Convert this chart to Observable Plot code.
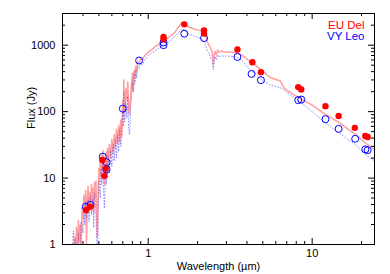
<!DOCTYPE html>
<html>
<head>
<meta charset="utf-8">
<script src="https://cdn.jsdelivr.net/npm/d3@7"></script>
<script src="https://cdn.jsdelivr.net/npm/@observablehq/plot@0.6"></script>
<style>
  html, body { margin: 0; padding: 0; background: #fff; }
  #chart { width: 390px; height: 274px; }
</style>
</head>
<body>
<div id="chart"></div>
<script>
// ---- Data ----
// EU Del model spectrum (red line)
const euDelModelWave = [0.35,0.355,0.36,0.365,0.37,0.375,0.38,0.385,0.39,0.395,0.40,0.405,0.41,0.415,0.42,0.425,0.43,0.435,0.44,0.445,0.45,0.455,0.46,0.465,0.47,0.475,0.48,0.485,0.49,0.495,0.50,0.505,0.51,0.515,0.52,0.525,0.53,0.535,0.54,0.545,0.55,0.555,0.56,0.565,0.57,0.58,0.59,0.60,0.61,0.62,0.63,0.64,0.65,0.66,0.67,0.68,0.69,0.70,0.705,0.71,0.715,0.72,0.73,0.74,0.75,0.76,0.77,0.78,0.79,0.80,0.81,0.82,0.83,0.84,0.85,0.86,0.88,0.90,0.92,0.95,1.0,1.05,1.1,1.15,1.2,1.25,1.3,1.35,1.4,1.45,1.5,1.55,1.6,1.65,1.7,1.75,1.8,1.9,2.0,2.1,2.2,2.25,2.3,2.35,2.4,2.45,2.5,2.52,2.55,2.6,2.65,2.7,2.8,2.9,3.0,3.2,3.4,3.6,3.8,4.0,4.2,4.5,4.8,5.0,5.5,6.0,6.4,6.7,7.0,8.0,8.7,10,12,14.5,18.3,21,24];
const euDelModelFlux = [0.5,1.3,0.7,1.8,0.9,2.3,1.1,2.0,0.8,3.5,2.5,5.5,3.0,6.5,1.0,5.0,7.5,3.5,6.0,4.0,8.0,4.5,7.0,3.0,8.5,5.0,9.0,2.5,1.3,6.0,14,9,18,11,22,14,26,12,8,20,15,25,13,28,18,32,20,38,24,45,28,55,33,62,35,75,42,150,90,300,140,100,220,150,280,110,90,170,250,380,200,420,330,480,400,560,540,620,610,690,790,850,950,1020,1100,1200,1250,1350,1450,1550,1750,1950,2200,2150,2000,1900,1850,1750,1700,1650,1550,1300,1100,1000,900,800,520,700,800,720,850,780,820,790,790,780,770,740,690,620,560,500,440,410,330,305,290,232,210,170,152,125,92,69,46,34,27];

// VY Leo model spectrum (blue dotted line)
const vyLeoModelWave = [0.34,0.35,0.355,0.36,0.37,0.375,0.38,0.39,0.40,0.405,0.41,0.415,0.42,0.43,0.435,0.44,0.445,0.45,0.46,0.465,0.47,0.48,0.485,0.49,0.495,0.50,0.51,0.515,0.52,0.525,0.53,0.535,0.54,0.55,0.555,0.56,0.565,0.57,0.58,0.59,0.60,0.61,0.62,0.63,0.64,0.65,0.66,0.67,0.68,0.69,0.70,0.705,0.71,0.715,0.72,0.73,0.74,0.75,0.76,0.77,0.78,0.79,0.80,0.81,0.82,0.83,0.84,0.85,0.86,0.88,0.90,0.92,0.95,1.0,1.05,1.1,1.15,1.2,1.25,1.3,1.35,1.4,1.45,1.5,1.55,1.6,1.65,1.7,1.75,1.8,1.9,2.0,2.1,2.2,2.25,2.3,2.35,2.4,2.45,2.5,2.52,2.55,2.6,2.65,2.7,2.8,2.9,3.0,3.2,3.4,3.6,3.8,4.0,4.2,4.5,4.8,5.0,5.5,6.0,6.5,7.0,8.0,9.0,10,12,14.5,18.3,21,24];
const vyLeoModelFlux = [0.5,1.6,0.6,1.2,0.7,1.5,0.5,2.2,1.5,3.5,2.0,4.5,2.5,5.0,2.2,4.2,5.5,2.8,5.0,1.8,6.0,3.0,1.2,0.5,3.0,9.0,5.0,14,8,18,10,6,3.5,14,8,18,10,22,12,26,15,32,18,38,20,45,25,55,30,65,100,60,200,90,70,140,80,170,55,45,100,160,280,200,380,260,420,320,480,440,540,500,600,700,760,820,880,950,1020,1080,1150,1250,1350,1450,1600,1750,1700,1600,1500,1450,1380,1320,1250,1150,950,800,750,650,600,430,580,680,600,720,660,700,680,690,680,670,630,560,480,420,370,320,295,255,240,225,195,155,125,100,68,48,32,23,18];

// Photometry: EU Del (red filled dots)
const euDelObsWave = [0.418,0.442,0.525,0.54,0.55,1.24,1.24,1.66,2.19,2.19,3.5,4.32,4.87,8.22,8.58,12.05,14.5,18.2,21.1,21.8];
const euDelObsFlux = [3.3,3.7,18.7,10.8,13.8,1330,1230,2060,1670,1500,860,554,393,234,216,121,86,57,43,41.6];

// Photometry: VY Leo (blue open circles)
const vyLeoObsWave = [0.416,0.444,0.528,0.557,0.557,0.70,0.88,1.24,1.24,1.66,2.19,3.5,4.27,4.87,8.22,8.58,12.05,14.5,18.3,21.1,21.8];
const vyLeoObsFlux = [3.7,3.95,21,17.3,13.5,111,588,1100,1000,1490,1280,665,370,298,149,152,77,55,39,27,26.3];

// Axis ticks and labels
const xTickLabels = [1, 10];
const xMinorTicks = [0.3,0.4,0.5,0.6,0.7,0.8,0.9,2,3,4,5,6,7,8,9,20];
const yTickLabels = [1, 10, 100, 1000];
const yMinorTicks = [2,3,4,5,6,7,8,9,20,30,40,50,60,70,80,90,200,300,400,500,600,700,800,900,2000];
const xTitle = "Wavelength (µm)";
const yTitle = "Flux (Jy)";
const seriesNames = ["EU Del", "VY Leo"];
const seriesColors = ["#ff0000", "#0000ff"];

// ---- Build tables ----
const zip = (ws, fs) => ws.map((w, i) => ({w, f: fs[i]}));
const euDelModel = zip(euDelModelWave, euDelModelFlux);
const vyLeoModel = zip(vyLeoModelWave, vyLeoModelFlux);
const euDelObs = zip(euDelObsWave, euDelObsFlux);
const vyLeoObs = zip(vyLeoObsWave, vyLeoObsFlux);

const width = 390, height = 274;
const mL = 62, mR = 16, mT = 13, mB = 30;
const fw = width - mL - mR, fh = height - mT - mB;
const major = 6, minor = 3;
const font = "'Liberation Sans', Arial, Helvetica, sans-serif";

const chart = Plot.plot({
  width, height,
  marginLeft: mL, marginRight: mR, marginTop: mT, marginBottom: mB,
  style: {fontFamily: font, fontSize: "11px", background: "#fff", color: "#000"},
  x: {type: "log", domain: [0.3, 24]},
  y: {type: "log", domain: [1, 3000]},
  marks: [
    Plot.line(vyLeoModel, {x: "w", y: "f", stroke: "#5050ff", strokeOpacity: 0.6, strokeWidth: 1, strokeDasharray: "1,2", clip: true}),
    Plot.line(euDelModel, {x: "w", y: "f", stroke: "#ff4040", strokeOpacity: 0.5, strokeWidth: 1.5, clip: true}),
    Plot.dot(vyLeoObs, {x: "w", y: "f", r: 3.5, stroke: seriesColors[1], fill: "none", strokeWidth: 1}),
    Plot.dot(euDelObs, {x: "w", y: "f", r: 3.2, fill: seriesColors[0], stroke: "none"}),
    // inward ticks (left/right)
    Plot.tickY(yTickLabels, {y: d => d, insetRight: fw - major, stroke: "#000"}),
    Plot.tickY(yTickLabels, {y: d => d, insetLeft: fw - major, stroke: "#000"}),
    Plot.tickY(yMinorTicks, {y: d => d, insetRight: fw - minor, stroke: "#000"}),
    Plot.tickY(yMinorTicks, {y: d => d, insetLeft: fw - minor, stroke: "#000"}),
    // inward ticks (bottom/top)
    Plot.tickX(xTickLabels, {x: d => d, insetTop: fh - major, stroke: "#000"}),
    Plot.tickX(xTickLabels, {x: d => d, insetBottom: fh - major, stroke: "#000"}),
    Plot.tickX(xMinorTicks, {x: d => d, insetTop: fh - minor, stroke: "#000"}),
    Plot.tickX(xMinorTicks, {x: d => d, insetBottom: fh - minor, stroke: "#000"}),
    Plot.frame({stroke: "#000", strokeWidth: 1}),
    Plot.axisY(yTickLabels, {tickSize: 0, tickPadding: 7, tickFormat: d => String(d), label: null, fontSize: 11}),
    Plot.axisX(xTickLabels, {tickSize: 0, tickPadding: 5, tickFormat: d => String(d), label: null, fontSize: 11}),
    Plot.text([xTitle], {text: d => d, frameAnchor: "bottom", dy: 22, lineAnchor: "middle", fontSize: 11, fill: "#000"}),
    Plot.text([yTitle], {text: d => d, frameAnchor: "left", dx: -31, rotate: -90, lineAnchor: "middle", fontSize: 11, fill: "#000"}),
    Plot.text([seriesNames[0]], {text: d => d, frameAnchor: "top-right", dx: -10, dy: 12, textAnchor: "end", lineAnchor: "middle", fontSize: 11.5, fill: seriesColors[0]}),
    Plot.text([seriesNames[1]], {text: d => d, frameAnchor: "top-right", dx: -10, dy: 23, textAnchor: "end", lineAnchor: "middle", fontSize: 11.5, fill: seriesColors[1]})
  ]
});
document.getElementById("chart").appendChild(chart);
</script>
</body>
</html>
